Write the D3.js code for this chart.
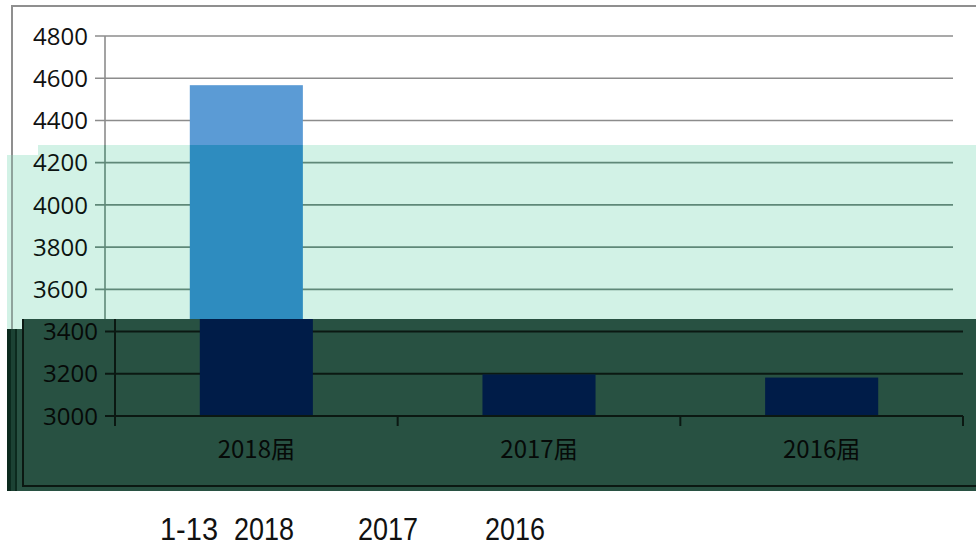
<!DOCTYPE html>
<html>
<head>
<meta charset="utf-8">
<script src="https://cdn.jsdelivr.net/npm/d3@7"></script>
<style>
  html, body { margin: 0; padding: 0; background: #fff; }
  svg { display: block; }
</style>
</head>
<body>
<svg id="chart" width="976" height="547"></svg>
<script>
// graduates per cohort
const categories = ["2018届", "2017届", "2016届"];
const values = [4567, 3197, 3182];
const yTicks = [3000, 3200, 3400, 3600, 3800, 4000, 4200, 4400, 4600, 4800];
const footLabels = ["1-13", "2018", "2017", "2016"];

(function () {
    const W = 976, H = 547;
    const svg = d3.select("#chart").attr("viewBox", `0 0 ${W} ${H}`);
    const defs = svg.append("defs");

    const FONT = "'Open Sans', 'Noto Sans CJK SC', sans-serif";
    const CJK = "'Noto Sans CJK SC', 'Open Sans', sans-serif";
    const y = d3.scaleLinear().domain([3000, 4800]).range([416, 36]);

    // glitched screenshot: three differently tinted copies of the same chart
    const MINT_PATH = "M7,155 L38,155 L38,145 L976,145 L976,331 L7,331 Z";
    const DARK_PATH = "M22,319 L976,319 L976,491 L7,491 L7,329 L22,329 Z";
    defs.append("clipPath").attr("id", "clip-mint").append("path").attr("d", MINT_PATH);
    defs.append("clipPath").attr("id", "clip-dark").append("path").attr("d", DARK_PATH);

    function drawChart(layer, dx, st) {
        const left = 105 + dx, right = 953 + dx;
        const x = d3.scaleBand().domain(categories).range([left, right])
            .paddingInner(0.6).paddingOuter(0.3);
        const x0 = d3.scaleBand().domain(categories).range([left, right]);

        // frame
        layer.append("path")
            .attr("d", st.frame)
            .attr("fill", "none").attr("stroke", st.frameColor).attr("stroke-width", 2);

        // gridlines + outward ticks
        layer.selectAll("line.grid").data(yTicks).join("line").attr("class", "grid")
            .attr("x1", left - 10).attr("x2", right)
            .attr("y1", d => y(d)).attr("y2", d => y(d))
            .attr("stroke", st.grid).attr("stroke-width", st.w);

        // bars
        layer.selectAll("rect.bar").data(values).join("rect").attr("class", "bar")
            .attr("x", (d, i) => x(categories[i]))
            .attr("width", x.bandwidth())
            .attr("y", d => y(d))
            .attr("height", d => y(3000) - y(d))
            .attr("fill", st.bar);

        // axes
        layer.append("line")
            .attr("x1", left).attr("x2", left).attr("y1", y(4800)).attr("y2", y(3000) + 10)
            .attr("stroke", st.grid).attr("stroke-width", st.w);
        layer.append("line")
            .attr("x1", left).attr("x2", right).attr("y1", y(3000)).attr("y2", y(3000))
            .attr("stroke", st.grid).attr("stroke-width", st.w);
        const bounds = categories.map(c => x0(c)).concat([right]);
        layer.selectAll("line.xt").data(bounds).join("line").attr("class", "xt")
            .attr("x1", d => d).attr("x2", d => d)
            .attr("y1", y(3000)).attr("y2", y(3000) + 10)
            .attr("stroke", st.grid).attr("stroke-width", st.w);

        // tick labels
        layer.selectAll("text.yl").data(yTicks).join("text").attr("class", "yl")
            .attr("x", left - 17).attr("y", d => y(d)).attr("dy", "0.36em")
            .attr("text-anchor", "end").attr("font-family", FONT).attr("font-size", 24)
            .attr("fill", st.text).text(d => d);
        layer.selectAll("text.xl").data(categories).join("text").attr("class", "xl")
            .attr("x", d => x0(d) + x0.bandwidth() / 2).attr("y", 458)
            .attr("text-anchor", "middle").attr("font-family", CJK).attr("font-size", 24)
            .attr("fill", st.text).text(d => d);
    }

    // 1. original copy on white
    svg.append("rect").attr("width", W).attr("height", H).attr("fill", "#fff");
    drawChart(svg.append("g"), 0, {
        grid: "#8c8c8c", w: 1.6, bar: "#5b9bd5", text: "#111",
        frame: "M12,320 L12,6 L990,6", frameColor: "#8f8f8f"
    });

    // 2. mint-tinted copy
    svg.append("path").attr("d", MINT_PATH).attr("fill", "#d2f2e6");
    drawChart(svg.append("g").attr("clip-path", "url(#clip-mint)"), 0, {
        grid: "#5f8878", w: 1.6, bar: "#2e8cbf", text: "#0c1411",
        frame: "M12,331 L12,6 L990,6", frameColor: "#8fa39c"
    });

    // small glitch speckles at the seam
    const speck = svg.append("g");
    [["#c9f048", 36, 320, 6, 4], ["#e2a6e8", 42, 322, 5, 3], ["#b6f03c", 49, 319, 6, 5],
     ["#2a2aff", 56, 319, 2, 6], ["#9ad84a", 60, 321, 4, 3]].forEach(s => {
        speck.append("rect").attr("fill", s[0]).attr("x", s[1]).attr("y", s[2])
            .attr("width", s[3]).attr("height", s[4]);
    });

    // 3. dark green copy, shifted right
    svg.append("path").attr("d", DARK_PATH).attr("fill", "#285142");
    const dark = svg.append("g").attr("clip-path", "url(#clip-dark)");
    dark.append("rect").attr("x", 7).attr("y", 300).attr("width", 4).attr("height", 200).attr("fill", "#0c2a1e");
    dark.append("rect").attr("x", 11).attr("y", 300).attr("width", 4).attr("height", 200).attr("fill", "#1c4234");
    dark.append("rect").attr("x", 15).attr("y", 300).attr("width", 2).attr("height", 200).attr("fill", "#0c2a1e");
    drawChart(dark, 10, {
        grid: "#0b1812", w: 2, bar: "#001c48", text: "#060a08",
        frame: "M23,0 L23,486 L990,486", frameColor: "#0b1812"
    });

    // footer caption
    const footX = [160, 234, 358, 485];
    const footW = [58, 60, 60, 60];
    svg.selectAll("text.foot").data(footLabels).join("text").attr("class", "foot")
        .attr("x", (d, i) => footX[i]).attr("y", 540)
        .attr("textLength", (d, i) => footW[i]).attr("lengthAdjust", "spacingAndGlyphs")
        .attr("font-family", "'Liberation Sans', sans-serif").attr("font-size", 31)
        .attr("fill", "#111").text(d => d);
})();
</script>
</body>
</html>
